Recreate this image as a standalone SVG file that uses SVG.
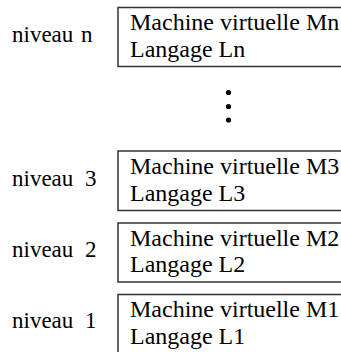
<svg xmlns="http://www.w3.org/2000/svg" width="341" height="352" viewBox="0 0 341 352">
<style>
.box{fill:#fff;stroke:#333;stroke-width:1.5}
text{font-family:'Liberation Serif',serif;fill:#000}
.t{font-size:24px}
.l{font-size:23px}
</style>
<rect width="341" height="352" fill="#fff"/>
<g id="level-n">
<text class="l" x="12" y="42" font-family="Liberation Serif">niveau</text><text class="l" x="81" y="42" font-family="Liberation Serif">n</text>
<rect class="box" x="118" y="7.5" width="240" height="59"/>
<text class="t" x="130" y="30" font-family="Liberation Serif">Machine virtuelle Mn</text>
<text class="t" x="130" y="56.5" font-family="Liberation Serif">Langage Ln</text>
</g>
<g id="ellipsis">
<circle cx="228.5" cy="92.5" r="2.6"/>
<circle cx="228.5" cy="106.5" r="2.6"/>
<circle cx="228.5" cy="120" r="2.6"/>
</g>
<g id="level-3">
<text class="l" x="12" y="185.5" font-family="Liberation Serif">niveau</text><text class="l" x="85" y="185.5" font-family="Liberation Serif">3</text>
<rect class="box" x="118" y="151" width="240" height="59.5"/>
<text class="t" x="130" y="174" font-family="Liberation Serif">Machine virtuelle M3</text>
<text class="t" x="130" y="200.5" font-family="Liberation Serif">Langage L3</text>
</g>
<g id="level-2">
<text class="l" x="12" y="257" font-family="Liberation Serif">niveau</text><text class="l" x="85" y="257" font-family="Liberation Serif">2</text>
<rect class="box" x="118" y="223" width="240" height="59"/>
<text class="t" x="130" y="245.5" font-family="Liberation Serif">Machine virtuelle M2</text>
<text class="t" x="130" y="272" font-family="Liberation Serif">Langage L2</text>
</g>
<g id="level-1">
<text class="l" x="12" y="328" font-family="Liberation Serif">niveau</text><text class="l" x="85" y="328" font-family="Liberation Serif">1</text>
<rect class="box" x="118" y="294.5" width="240" height="70"/>
<text class="t" x="130" y="317" font-family="Liberation Serif">Machine virtuelle M1</text>
<text class="t" x="130" y="343.5" font-family="Liberation Serif">Langage L1</text>
</g>
<g id="connectors"></g>
</svg>
